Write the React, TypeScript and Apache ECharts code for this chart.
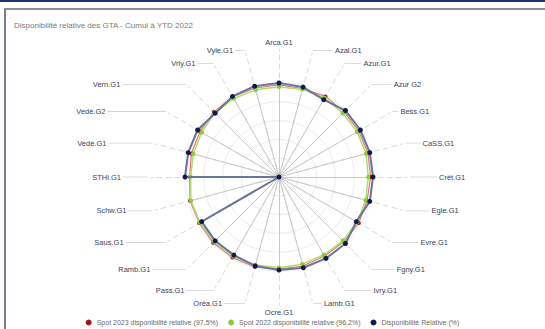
import React, { useEffect, useRef } from "react";
import * as echarts from "echarts";

// Categories, clockwise from the top
const categories = [
  "Arca.G1", "Azal.G1", "Azur.G1", "Azur G2", "Bess.G1", "CaSS.G1", "Crét.G1", "Egle.G1",
  "Evre.G1", "Fgny.G1", "Ivry.G1", "Lamb.G1", "Ocre.G1", "Oréa.G1", "Pass.G1", "Ramb.G1",
  "Saus.G1", "Schw.G1", "STHi.G1", "Vedè.G1", "Vedè.G2", "Vern.G1", "Vrly.G1", "Vyle.G1",
];
const spot2023 = [98, 97.5, 99, 98, 98, 98, 97.5, 97, 98, 97.5, 97, 98, 98, 99, 99, 99, 98, 98, 95, 96.5, 97, 98, 98.5, 98];
const spot2022 = [96, 96.5, 97, 96, 96, 96, 95, 95.5, 96, 96, 95.5, 96, 96.5, 97, 97.5, 97.5, 97, 97, 94, 94.5, 95, 96.5, 96.5, 96];
const dispoRel = [100, 99, 95, 100, 100, 100, 100, 100, 95, 100, 100, 100, 99, 98, 96, 96, 95, 0, 100, 100, 100, 96, 99, 100];
const seriesNames = [
  "Spot 2023 disponibilité relative (97,5%)",
  "Spot 2022 disponibilité relative (96,2%)",
  "Disponibilité Relative (%)",
];
const titleText = "Disponibilité relative des GTA - Cumul à YTD 2022";
const maxValue = 100;

// Style only: length of the horizontal leader segment of each axis name (clockwise order)
const leaderLength = [0, 20, 17, 20, 6, 15, 27, 24, 26, 23, 27, 9, 0, 21, 27, 34, 40, 24, 25, 44, 58, 64, 16, 10];

// ECharts places radar indicators counter-clockwise; reorder to get a clockwise layout
const toCCW = (arr: any[]) => [arr[0], ...arr.slice(1).reverse()];

export default function App() {
  const ref = useRef<HTMLDivElement>(null);
  useEffect(() => {
    if (!ref.current) return;
    const chart = echarts.init(ref.current, null, { renderer: "svg" });
    const indicators = toCCW(categories).map((n: string) => ({ name: n, max: maxValue, min: 0 }));
    const font = "Liberation Sans, Arial, sans-serif";
    const rich: any = {
      t: { color: "#3d4257", fontSize: 7.5, fontFamily: font, padding: [0, 2] },
    };
    leaderLength.forEach((w, k) => {
      rich["l" + k] = { width: w, height: 0.8, fontSize: 1, backgroundColor: "#d4d4d4" };
    });
    chart.setOption({
      animation: false,
      title: {
        text: titleText,
        left: 9,
        top: 16,
        textStyle: { fontSize: 8, fontWeight: "normal", color: "#7a7a7a", fontFamily: font },
      },
      legend: {
        data: seriesNames,
        left: "center",
        top: 314,
        icon: "circle",
        itemWidth: 6,
        itemHeight: 6,
        itemGap: 10,
        textStyle: { fontSize: 7, color: "#6a6a6a", fontFamily: font },
      },
      radar: [
        {
          center: [279, 177],
          radius: 128,
          shape: "circle",
          indicator: indicators,
          splitNumber: 1,
          axisNameGap: 3,
          axisName: {
            rich,
            formatter: (name: string) => {
              const k = categories.indexOf(name);
              if (k === 0 || k === 12 || leaderLength[k] === 0) return "{t|" + name + "}";
              if (k < 12) return "{l" + k + "| }{t|" + name + "}";
              return "{t|" + name + "}{l" + k + "| }";
            },
          },
          axisLine: { lineStyle: { color: "#dadada", width: 1, type: [5, 4] } },
          splitLine: { show: false },
          splitArea: { show: false },
          axisTick: { show: false },
          axisLabel: { show: false },
        },
        {
          center: [279, 177],
          radius: 94,
          shape: "circle",
          indicator: indicators.map((d: any) => ({ ...d, name: "" })),
          splitNumber: 5,
          axisName: { show: false },
          axisLine: { lineStyle: { color: "#c9c9c9", width: 1 } },
          splitLine: { lineStyle: { color: "#ececec", width: 1 } },
          splitArea: { show: false },
          axisTick: { show: false },
          axisLabel: { show: false },
        },
      ],
      series: [
        {
          type: "radar",
          radarIndex: 1,
          name: seriesNames[0],
          symbol: "circle",
          symbolSize: 4,
          itemStyle: { color: "#a3151c" },
          lineStyle: { color: "#e07a72", width: 1.2 },
          data: [{ name: seriesNames[0], value: toCCW(spot2023) }],
          z: 2,
        },
        {
          type: "radar",
          radarIndex: 1,
          name: seriesNames[1],
          symbol: "circle",
          symbolSize: 4.5,
          itemStyle: { color: "#8ccc3c" },
          lineStyle: { color: "#b0db78", width: 1.5 },
          data: [{ name: seriesNames[1], value: toCCW(spot2022) }],
          z: 3,
        },
        {
          type: "radar",
          radarIndex: 1,
          name: seriesNames[2],
          symbol: "circle",
          symbolSize: 5,
          itemStyle: { color: "#0e1a47" },
          lineStyle: { color: "#6a7698", width: 2 },
          data: [{ name: seriesNames[2], value: toCCW(dispoRel) }],
          z: 4,
        },
      ],
    });
    return () => chart.dispose();
  }, []);

  return (
    <div style={{ position: "fixed", left: 0, top: 0, width: 545, height: 329, background: "#fff", overflow: "hidden" }}>
      <div style={{ position: "absolute", left: 0, top: 0, width: 545, height: 2, background: "#1d3370" }} />
      <div
        style={{
          position: "absolute",
          left: 4,
          top: 8,
          width: 600,
          height: 400,
          borderTop: "2px solid #8d8f9e",
          borderLeft: "2px solid #7c7e8c",
        }}
      />
      <div ref={ref} style={{ position: "absolute", left: 0, top: 0, width: 545, height: 329 }} />
    </div>
  );
}
